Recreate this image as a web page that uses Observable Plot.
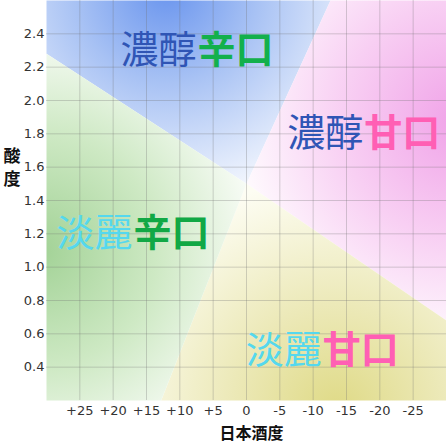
<!DOCTYPE html>
<html><head><meta charset="utf-8">
<script src="https://cdn.jsdelivr.net/npm/d3@7"></script>
<script src="https://cdn.jsdelivr.net/npm/@observablehq/plot@0.6"></script>
<style>body{margin:0;background:#fff;}</style>
</head><body><div id="chart"></div>
<script>
// ---- data ----
const xTicks = [25, 20, 15, 10, 5, 0, -5, -10, -15, -20, -25];
const xTickLabels = ["+25", "+20", "+15", "+10", "+5", "0", "-5", "-10", "-15", "-20", "-25"];
const yTicks = [0.4, 0.6, 0.8, 1.0, 1.2, 1.4, 1.6, 1.8, 2.0, 2.2, 2.4];
const yTickLabels = ["0.4", "0.6", "0.8", "1.0", "1.2", "1.4", "1.6", "1.8", "2.0", "2.2", "2.4"];

// region polygons (日本酒度, 酸度)
const blueX = [30, 30, 0, -12.6], blueY = [2.6, 2.28, 1.5, 2.6];
const pinkX = [-12.6, 0, -30, -30], pinkY = [2.6, 1.5, 0.68, 2.6];
const yellowX = [-30, 0, 12.8, -30], yellowY = [0.68, 1.5, 0.2, 0.2];
const greenX = [12.8, 0, 30, 30], greenY = [0.2, 1.5, 2.28, 0.2];

// region labels
const labelBody = ["濃醇", "濃醇", "淡麗", "淡麗"];
const labelTaste = ["辛口", "甘口", "辛口", "甘口"];
const labelX = [7.5, -17.5, 17.1, -11.3];
const labelY = [2.3, 1.8, 1.2, 0.5];

// ---- styles ----
const bodyColors = ["#2f55b5", "#2f55b5", "#55d8ee", "#55d8ee"];
const tasteColors = ["#13b04c", "#ff5fb4", "#11a845", "#ff5fb4"];
const gradientStyles = [
  {id: "gBlue", cx: 12, cy: 2.66, r: 230, stops: [[0, "#6a95ee"], [0.4, "#a8c2f4"], [1, "#ffffff"]]},
  {id: "gPink", cx: -32, cy: 1.88, r: 235, stops: [[0, "#f0a2e8"], [0.5, "#f8cff3"], [1, "#ffffff"]]},
  {id: "gYellow", cx: -13.5, cy: 0.14, r: 235, stops: [[0, "#dfda86"], [0.45, "#ece9b8"], [1, "#fdfdf3"]]},
  {id: "gGreen", cx: 31, cy: 1.1, r: 235, stops: [[0, "#a2d296"], [0.5, "#cee9c4"], [1, "#ffffff"]]}
];

const poly = (xs, ys) => xs.map((x, i) => ({x, y: ys[i]}));
const xFmt = new Map(xTicks.map((d, i) => [d, xTickLabels[i]]));
const yFmt = new Map(yTicks.map((d, i) => [d, yTickLabels[i]]));

function defsMark(index, scales) {
  const defs = d3.create("svg:defs");
  for (const g of gradientStyles) {
    const rg = defs.append("radialGradient").attr("id", g.id)
      .attr("gradientUnits", "userSpaceOnUse")
      .attr("cx", scales.x(g.cx)).attr("cy", scales.y(g.cy)).attr("r", g.r);
    for (const [o, c] of g.stops) rg.append("stop").attr("offset", o).attr("stop-color", c);
  }
  return defs.node();
}

const labelFont = "'Noto Sans CJK JP', sans-serif";
const labelMarks = [];
labelBody.forEach((b, i) => {
  labelMarks.push(Plot.text([i], {x: () => labelX[i], y: () => labelY[i], text: () => labelBody[i],
    textAnchor: "end", dx: 0, fill: bodyColors[i], fontSize: 38, fontFamily: labelFont, fontWeight: 400}));
  labelMarks.push(Plot.text([i], {x: () => labelX[i], y: () => labelY[i], text: () => labelTaste[i],
    textAnchor: "start", dx: 1, fill: tasteColors[i], fontSize: 38, fontFamily: labelFont, fontWeight: 700}));
});

const chart = Plot.plot({
  width: 446, height: 446,
  marginLeft: 46, marginRight: 0, marginTop: 0, marginBottom: 46,
  x: {domain: [30, -30], axis: null},
  y: {domain: [0.2, 2.6], axis: null},
  style: {fontFamily: "'DejaVu Sans', Verdana, sans-serif", fontSize: "13px", color: "#333", background: "#fff"},
  marks: [
    defsMark,
    Plot.line(poly(blueX, blueY), {x: "x", y: "y", fill: "url(#gBlue)", stroke: "none"}),
    Plot.line(poly(pinkX, pinkY), {x: "x", y: "y", fill: "url(#gPink)", stroke: "none"}),
    Plot.line(poly(yellowX, yellowY), {x: "x", y: "y", fill: "url(#gYellow)", stroke: "none"}),
    Plot.line(poly(greenX, greenY), {x: "x", y: "y", fill: "url(#gGreen)", stroke: "none"}),
    Plot.gridX({ticks: xTicks, stroke: "#707070", strokeOpacity: 0.3}),
    Plot.gridY({ticks: yTicks, stroke: "#707070", strokeOpacity: 0.3}),
    Plot.axisX({ticks: xTicks, tickSize: 0, tickPadding: 5, tickFormat: d => xFmt.get(d), label: null}),
    Plot.axisY({ticks: yTicks, tickSize: 0, tickPadding: 2, tickFormat: d => yFmt.get(d), label: null}),
    Plot.text(["日本酒度"], {frameAnchor: "bottom", dy: 33, dx: 5, text: d => d, fontSize: 16, fontWeight: 700,
      fill: "#111", fontFamily: labelFont, lineAnchor: "middle"}),
    Plot.text(["酸\n度"], {frameAnchor: "left", dx: -34.5, dy: -34, text: d => d, fontSize: 17, fontWeight: 700,
      fill: "#111", fontFamily: labelFont, textAnchor: "middle", lineAnchor: "middle", lineHeight: 1.35}),
    ...labelMarks
  ]
});
document.getElementById("chart").appendChild(chart);
</script></body></html>
